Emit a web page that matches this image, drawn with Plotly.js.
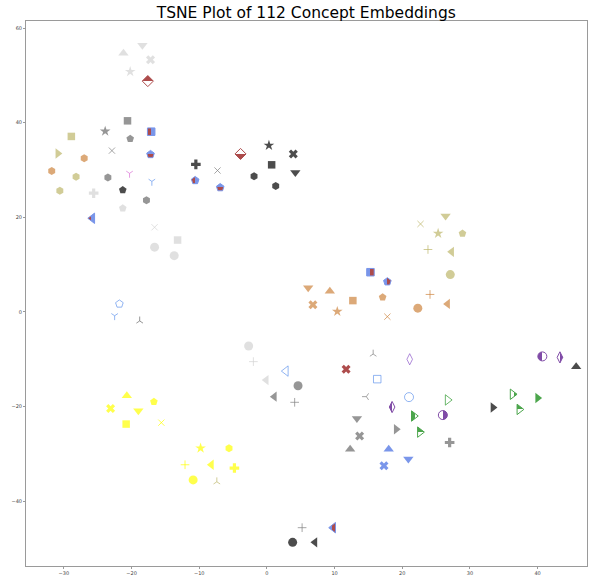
<!DOCTYPE html>
<html>
<head>
<meta charset="utf-8">
<script src="https://cdn.plot.ly/plotly-3.0.1.min.js"></script>
<style>html,body{margin:0;padding:0;background:#fff;}#chart{width:589px;height:575px;}</style>
</head>
<body>
<div id="chart"></div>
<script>
// ---- data ----
const xs = [-21.2,-18.4,-17.2,-20.2,-17.6,-20.6,-23.9,-17.1,-28.9,-20.2,
  -22.9,-17.2,-30.9,-27.0,-31.8,-28.2,-23.5,-20.3,-17.0,-30.6,
  -25.6,-21.3,-17.8,-21.3,-25.8,-10.5,-7.3,-10.6,-6.9,-3.9,
  0.3,3.9,0.7,4.2,-1.9,1.3,-16.6,-13.2,-16.6,-13.7,
  -21.8,-22.5,-18.8,26.4,22.7,25.3,28.9,23.8,27.3,27.1,
  15.3,17.8,6.1,9.3,12.7,17.1,6.8,10.4,17.8,22.3,
  24.1,26.7,-20.7,-16.7,-23.1,-19.0,-20.8,-15.6,-9.8,-5.6,
  -12.1,-8.2,-4.8,-10.9,-7.4,-0.1,1.1,-2.7,-2.0,2.8,
  4.6,4.1,11.7,15.7,21.1,16.3,14.7,21.0,26.7,18.5,
  21.7,26.0,13.3,19.1,22.6,13.7,27.0,12.3,18.0,20.9,
  17.3,40.7,43.3,36.3,40.0,33.4,37.3,45.7,5.2,9.8,
  3.8,7.1];
const ys = [54.7,56.4,53.3,50.8,48.8,40.4,38.2,38.1,37.1,36.6,
  34.1,33.3,33.5,32.5,29.8,28.6,28.4,29.3,27.6,25.6,
  25.1,25.8,23.6,21.9,19.8,31.2,29.9,27.8,26.3,33.4,
  35.2,33.4,31.1,29.5,28.7,26.6,17.9,15.2,13.7,11.9,
  1.7,-0.8,-1.9,20.3,18.6,16.6,16.6,13.2,12.7,7.9,
  8.4,6.4,5.1,4.4,2.4,3.1,1.5,0.1,-1.0,0.8,
  3.7,1.7,-17.7,-19.0,-20.4,-20.9,-23.7,-23.4,-28.8,-28.8,
  -32.3,-32.3,-33.0,-35.5,-35.9,-14.4,-17.9,-7.2,-10.5,-12.5,
  -15.6,-19.1,-12.1,-8.9,-10.0,-14.2,-17.9,-18.0,-18.6,-20.1,
  -22.0,-21.8,-22.5,-24.8,-25.4,-26.2,-27.6,-29.0,-29.0,-31.1,
  -32.5,-9.4,-9.6,-17.4,-18.2,-20.2,-20.6,-11.6,-45.6,-45.6,
  -48.7,-48.7];
const markers = ['triangle-up','triangle-down','x','star','diamond','square','star','square','square','pentagon',
  'x-thin-open','pentagon','triangle-right','hexagon','hexagon','hexagon','hexagon','y-down-open','y-down-open','hexagon',
  'cross','pentagon','hexagon','pentagon','triangle-left','cross','x-thin-open','pentagon','pentagon','diamond',
  'star','x','square','triangle-down','hexagon','hexagon','x-thin-open','square','circle','circle',
  'pentagon-open','y-down-open','y-up-open','triangle-down','x-thin-open','star','pentagon','cross-thin-open','triangle-left','circle',
  'square','pentagon','triangle-down','triangle-up','square','pentagon','x','star','x-thin-open','circle',
  'cross-thin-open','triangle-left','triangle-up','pentagon','x','triangle-down','square','x-thin-open','star','hexagon',
  'cross-thin-open','triangle-left','cross','circle','y-up-open','triangle-left','triangle-left','circle','cross-thin-open','triangle-left-open',
  'circle','cross-thin-open','x','y-up-open','diamond-tall-open','square-open','y-left-open','circle-open','triangle-right-open','diamond-tall',
  'triangle-right','circle','triangle-down','triangle-right','triangle-right','x','cross','triangle-up','triangle-up','triangle-down',
  'x','circle','diamond-tall','triangle-right','triangle-right','triangle-right','triangle-right','triangle-up','cross-thin-open','triangle-left',
  'circle','triangle-left'];
const colors = ['#d3d3d3','#d3d3d3','#d3d3d3','#d3d3d3','#8b0000','#696969','#696969','#4169e1','#bdb76b','#696969',
  '#808080','#4169e1','#bdb76b','#cd853f','#cd853f','#bdb76b','#696969','#da70d6','#6495ed','#bdb76b',
  '#d3d3d3','#000000','#696969','#d3d3d3','#4169e1','#000000','#808080','#4169e1','#4169e1','#8b0000',
  '#000000','#000000','#000000','#000000','#000000','#000000','#d3d3d3','#d3d3d3','#d3d3d3','#d3d3d3',
  '#6495ed','#6495ed','#696969','#bdb76b','#bdb76b','#bdb76b','#bdb76b','#bdb76b','#bdb76b','#bdb76b',
  '#4169e1','#4169e1','#cd853f','#cd853f','#cd853f','#cd853f','#cd853f','#cd853f','#cd853f','#cd853f',
  '#cd853f','#cd853f','#ffff00','#ffff00','#ffff00','#ffff00','#ffff00','#ffff00','#ffff00','#ffff00',
  '#ffff00','#ffff00','#ffff00','#ffff00','#bdb76b','#d3d3d3','#696969','#d3d3d3','#d3d3d3','#6495ed',
  '#696969','#808080','#8b0000','#808080','#8e5acb','#6495ed','#808080','#6495ed','#2e9a2e','#4b0082',
  '#008000','#4b0082','#696969','#696969','#008000','#696969','#696969','#696969','#4169e1','#4169e1',
  '#4169e1','#4b0082','#4b0082','#008000','#008000','#000000','#008000','#000000','#808080','#4169e1',
  '#000000','#000000'];
// half-filled markers: which half carries the main colour, and the other half's colour
const fillStyles = {4:'top',7:'right',11:'top',24:'right',27:'right',28:'top',29:'bottom',50:'left',51:'left',
  89:'left',90:'left',91:'right',94:'top',101:'left',102:'right',103:'right',106:'top',109:'left'};
const altColors = {4:'#ffffff',7:'#8b0000',11:'#8b0000',24:'#8b0000',27:'#8b0000',28:'#8b0000',29:'#ffffff',50:'#8b0000',51:'#8b0000',
  89:'#ffffff',90:'#ffffff',91:'#ffffff',94:'#ffffff',101:'#ffffff',102:'#ffffff',103:'#ffffff',106:'#ffffff',109:'#8b0000'};

// ---- styling derived from the arrays ----
const sizeFor = {'circle':9,'square':7.5,'triangle-up':9,'triangle-down':9,'triangle-left':9,'triangle-right':9,
  'star':8,'pentagon':8,'hexagon':8,'x':8,'cross':8,'diamond':8.5,'diamond-tall':8,
  'x-thin-open':6.2,'cross-thin-open':6.2,'y-up-open':5.5,'y-down-open':5.5,'y-left-open':5.5,
  'pentagon-open':8,'triangle-left-open':9,'square-open':7.5,'circle-open':9,'triangle-right-open':9,'diamond-tall-open':8};

const mColor=[], gColor=[], gType=[], lColor=[], lWidth=[], sizes=[];
for (let i=0;i<xs.length;i++){
  const sym = markers[i];
  sizes.push(sizeFor[sym]||8);
  const fs = fillStyles[i];
  const open = sym.indexOf('open')>=0;
  lColor.push(colors[i]);
  if (fs){
    const alt = altColors[i];
    if (fs==='left'){ mColor.push(colors[i]); gColor.push(alt); gType.push('horizontal'); }
    else if (fs==='right'){ mColor.push(alt); gColor.push(colors[i]); gType.push('horizontal'); }
    else if (fs==='top'){ mColor.push(colors[i]); gColor.push(alt); gType.push('vertical'); }
    else { mColor.push(alt); gColor.push(colors[i]); gType.push('vertical'); }
    lWidth.push(1);
  } else {
    mColor.push(colors[i]); gColor.push(colors[i]); gType.push('none');
    lWidth.push(open?1:0);
  }
}

const trace = {
  type:'scatter', mode:'markers', x:xs, y:ys, hoverinfo:'skip',
  marker:{symbol:markers, size:sizes, color:mColor,
    gradient:{type:gType, color:gColor},
    line:{color:lColor, width:lWidth}}
};

const axisCommon = {showgrid:false, zeroline:false, showline:true, mirror:true, linecolor:'#9a9a9a', linewidth:1,
  ticks:'outside', ticklen:2, tickwidth:1, tickcolor:'#9a9a9a',
  tickfont:{family:'DejaVu Sans', size:5, color:'#444444'}};

const layout = {
  width:589, height:575, showlegend:false,
  paper_bgcolor:'#ffffff', plot_bgcolor:'#ffffff',
  margin:{l:26, r:2, t:21, b:9},
  title:{text:'TSNE Plot of 112 Concept Embeddings', font:{family:'DejaVu Sans', size:15.5, color:'#000'},
    x:0.52, xanchor:'center', xref:'container', y:0.979, yanchor:'middle', yref:'container'},
  xaxis:Object.assign({range:[-35.6,47.3], tickvals:[-30,-20,-10,0,10,20,30,40]}, axisCommon),
  yaxis:Object.assign({range:[-53.7,61.5], tickvals:[-40,-20,0,20,40,60]}, axisCommon)
};

const gd = document.getElementById('chart');
Plotly.newPlot(gd, [trace], layout, {staticPlot:true}).then(function(){
  // sharpen two-stop gradients into half-filled markers
  gd.querySelectorAll('linearGradient').forEach(function(g){
    const stops = g.querySelectorAll('stop');
    if (stops.length===2){
      const a = stops[0].cloneNode(); a.setAttribute('offset','50%');
      const b = stops[1].cloneNode(); b.setAttribute('offset','50%');
      g.insertBefore(a, stops[1]); g.insertBefore(b, stops[1]);
    }
  });
});
</script>
</body>
</html>
